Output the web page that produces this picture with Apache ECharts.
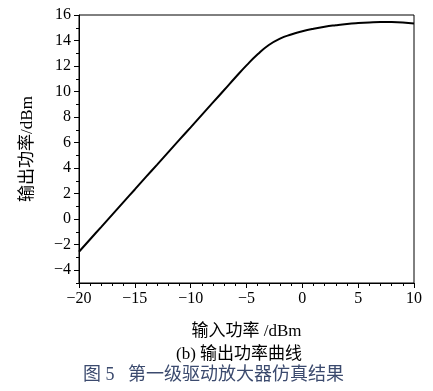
<!DOCTYPE html>
<html>
<head>
<meta charset="utf-8">
<script src="https://cdn.jsdelivr.net/npm/echarts@6/dist/echarts.min.js"></script>
<style>html,body{margin:0;padding:0;background:#fff}#c{width:433px;height:391px}</style>
</head>
<body>
<div id="c"></div>
<script>
const inputPower = [-20,-19,-18,-17,-16,-15,-14,-13,-12,-11,-10,-9,-8,-7,-6,-5,-4,-3,-2,-1,0,1,2,3,4,5,6,7,8,9,10];
const outputPower = [-2.55,-1.57,-0.6,0.38,1.36,2.33,3.31,4.28,5.26,6.23,7.2,8.18,9.15,10.12,11.1,12.05,12.92,13.65,14.15,14.47,14.72,14.92,15.08,15.2,15.3,15.37,15.42,15.45,15.45,15.42,15.33];
const yMajorTicks = [-4,-2,0,2,4,6,8,10,12,14,16];
const xAxisTitle = '输入功率 /dBm';
const yAxisTitle = '输出功率/dBm';
const subCaption = '(b) 输出功率曲线';
const figCaption = '图 5   第一级驱动放大器仿真结果';

const serif = '"Liberation Serif", "Times New Roman", "Noto Sans CJK SC", serif';
const fmt = v => (v < 0 ? '\u2212' + Math.abs(v) : String(v));
const chart = echarts.init(document.getElementById('c'), null, {renderer: 'canvas'});
const axisLineStyle = {color: '#000', width: 1};
chart.setOption({
  animation: false,
  grid: {left: 79, top: 15, right: 19, bottom: 108, show: true, borderColor: '#000', borderWidth: 1},
  xAxis: {
    type: 'value', min: -20, max: 10, interval: 5,
    name: xAxisTitle, nameLocation: 'middle', nameGap: 40,
    nameTextStyle: {fontFamily: serif, fontSize: 17, color: '#000'},
    axisLine: {show: true, onZero: false, lineStyle: axisLineStyle},
    axisTick: {show: true, length: 5, inside: false, lineStyle: axisLineStyle},
    minorTick: {show: true, splitNumber: 5, length: 3, lineStyle: axisLineStyle},
    splitLine: {show: false},
    axisLabel: {formatter: fmt, fontFamily: serif, fontSize: 16, color: '#000', margin: 8}
  },
  yAxis: [{
    type: 'value', min: -5, max: 16, interval: 1,
    name: yAxisTitle, nameLocation: 'middle', nameGap: 43, nameRotate: 90,
    nameTextStyle: {fontFamily: serif, fontSize: 17, color: '#000'},
    axisLine: {show: true, onZero: false, lineStyle: axisLineStyle},
    axisTick: {show: true, length: 3, inside: false, lineStyle: axisLineStyle},
    splitLine: {show: false},
    axisLabel: {formatter: v => (Math.abs(v) % 2 === 0 ? fmt(v) : ''), fontFamily: serif, fontSize: 16, color: '#000', margin: 8}
  }, {
    type: 'value', min: -5, max: 16, position: 'left',
    axisLine: {show: false, onZero: false},
    axisTick: {show: true, length: 5, inside: false, customValues: yMajorTicks, lineStyle: axisLineStyle},
    axisLabel: {show: false},
    splitLine: {show: false}
  }],
  series: [{
    type: 'line', data: inputPower.map((x, i) => [x, outputPower[i]]),
    smooth: true, showSymbol: false, lineStyle: {color: '#000', width: 2}
  }],
  graphic: [
    {type: 'text', left: 176, top: 346, style: {text: subCaption, font: '17px ' + serif, fill: '#000'}},
    {type: 'text', left: 83, top: 366, style: {text: figCaption, font: '18px ' + serif, fill: '#3b4a6e'}}
  ]
});
</script>
</body>
</html>
